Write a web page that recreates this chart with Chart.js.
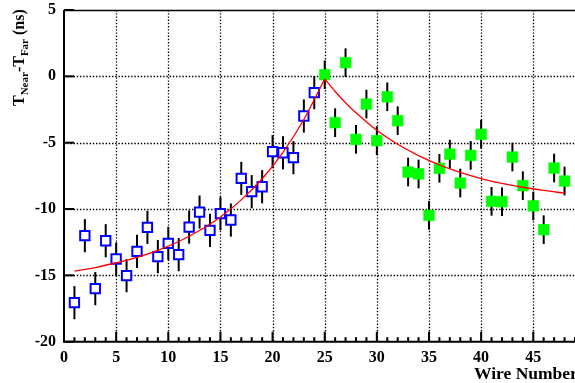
<!DOCTYPE html>
<html>
<head>
<meta charset="utf-8">
<script src="https://cdn.jsdelivr.net/npm/chart.js@4.4.0/dist/chart.umd.min.js"></script>
<style>
  html, body { margin: 0; padding: 0; overflow: hidden; background: #fff; }
  #wrap { width: 594px; height: 383px; }
</style>
</head>
<body>
<div id="wrap"><canvas id="c" width="594" height="383"></canvas></div>
<script>
// Wires 1-24: near-side time difference (open blue squares)
const nearWires = [1, 2, 3, 4, 5, 6, 7, 8, 9, 10, 11, 12, 13, 14, 15, 16, 17, 18, 19, 20, 21, 22, 23, 24];
const nearDelta = [-17.06, -12.01, -16.0, -12.39, -13.77, -15.02, -13.19, -11.38, -13.59, -12.59, -13.44, -11.36,
                   -10.23, -11.61, -10.35, -10.83, -7.69, -8.69, -8.32, -5.68, -5.76, -6.13, -2.99, -1.23];
const nearErr   = [1.25, 1.25, 1.25, 1.25, 1.25, 1.25, 1.25, 1.25, 1.25, 1.25, 1.25, 1.25,
                   1.25, 1.25, 1.25, 1.25, 1.25, 1.25, 1.25, 1.25, 1.25, 1.25, 1.25, 1.25];

// Wires 25-48: far-side time difference (filled green squares)
const farWires = [25, 26, 27, 28, 29, 30, 31, 32, 33, 34, 35, 36, 37, 38, 39, 40, 41, 42, 43, 44, 45, 46, 47, 48];
const farDelta = [0.12, -3.49, 1.03, -4.75, -2.09, -4.85, -1.54, -3.34, -7.21, -7.36, -10.48, -6.93,
                  -5.86, -8.04, -5.96, -4.37, -9.42, -9.45, -6.08, -8.24, -9.77, -11.56, -6.91, -7.89];
const farErr   = [1.08, 1.08, 1.08, 1.08, 1.08, 1.08, 1.08, 1.08, 1.08, 1.08, 1.08, 1.08,
                  1.08, 1.08, 1.08, 1.08, 1.08, 1.08, 1.08, 1.08, 1.08, 1.08, 1.08, 1.08];

// Fitted curves (red), sampled along each branch
const riseX = [1, 3, 5, 7, 9, 11, 13, 15, 17, 19, 21, 23, 25];
const riseY = [-14.68, -14.41, -14.05, -13.64, -13.11, -12.45, -11.62, -10.6, -9.31, -7.72, -5.73, -3.25, -0.2];
const fallX = [25, 26, 27, 28, 30, 32, 34, 36, 38, 40, 42, 44, 46, 48];
const fallY = [-0.2, -1.14, -1.99, -2.75, -4.07, -5.12, -5.97, -6.67, -7.23, -7.7, -8.06, -8.36, -8.6, -8.8];

// Axis ticks
const xLabelTicks = [0, 5, 10, 15, 20, 25, 30, 35, 40, 45];
const yLabelTicks = [-20, -15, -10, -5, 0, 5];

const FONT = "'Liberation Serif', 'Times New Roman', serif";
const pts = (xs, ys) => xs.map((x, i) => ({ x: x, y: ys[i] }));

const rootFrame = {
  id: 'rootFrame',
  beforeDatasetsDraw(chart) {
    const { ctx, chartArea: a, scales: { x, y } } = chart;
    ctx.save();
    // dotted grid at the labelled ticks
    ctx.strokeStyle = '#000';
    ctx.lineWidth = 1.3;
    ctx.setLineDash([1.4, 1.8]);
    xLabelTicks.forEach(v => {
      if (v <= x.min || v >= x.max) return;
      const px = Math.round(x.getPixelForValue(v)) + 0.5;
      ctx.beginPath(); ctx.moveTo(px, a.top); ctx.lineTo(px, a.bottom); ctx.stroke();
    });
    yLabelTicks.forEach(v => {
      if (v <= y.min || v >= y.max) return;
      const py = Math.round(y.getPixelForValue(v)) + 0.5;
      ctx.beginPath(); ctx.moveTo(a.left, py); ctx.lineTo(a.right, py); ctx.stroke();
    });
    ctx.setLineDash([]);
    // vertical error bars
    ctx.lineWidth = 2;
    ctx.strokeStyle = '#000';
    const bars = (xs, ys, es) => xs.forEach((w, i) => {
      const px = x.getPixelForValue(w);
      ctx.beginPath();
      ctx.moveTo(px, y.getPixelForValue(ys[i] + es[i]));
      ctx.lineTo(px, y.getPixelForValue(ys[i] - es[i]));
      ctx.stroke();
    });
    bars(nearWires, nearDelta, nearErr);
    bars(farWires, farDelta, farErr);
    ctx.restore();
  },
  afterDraw(chart) {
    const { ctx, chartArea: a, scales: { x, y } } = chart;
    ctx.save();
    ctx.strokeStyle = '#000';
    // frame: left, bottom, top
    ctx.lineWidth = 2;
    ctx.beginPath();
    ctx.moveTo(a.left, a.top); ctx.lineTo(a.left, a.bottom); ctx.lineTo(a.right, a.bottom);
    ctx.stroke();
    ctx.lineWidth = 1.5;
    ctx.beginPath(); ctx.moveTo(a.left, a.top + 0.5); ctx.lineTo(a.right, a.top + 0.5); ctx.stroke();
    // inward tick marks
    ctx.lineWidth = 2;
    for (let v = Math.ceil(x.min); v <= x.max; v++) {
      const px = x.getPixelForValue(v);
      const len = (v % 5 === 0) ? 10 : 4.5;
      ctx.beginPath(); ctx.moveTo(px, a.bottom); ctx.lineTo(px, a.bottom - len); ctx.stroke();
    }
    yLabelTicks.forEach(v => {
      const py = y.getPixelForValue(v);
      ctx.beginPath(); ctx.moveTo(a.left, py); ctx.lineTo(a.left + 10, py); ctx.stroke();
    });
    // axis titles
    ctx.fillStyle = '#000';
    ctx.textBaseline = 'alphabetic';
    ctx.textAlign = 'left';
    ctx.font = 'bold 17.5px ' + FONT;
    ctx.fillText('Wire Number', 474, 379);

    ctx.translate(24, 106);
    ctx.rotate(-Math.PI / 2);
    const parts = [
      ['T', 16, 0], ['Near', 11, 4], ['-T', 16, 0], ['Far', 11, 4], [' (ns)', 16, 0]
    ];
    let cx = 0;
    parts.forEach(([t, s, dy]) => {
      ctx.font = 'bold ' + s + 'px ' + FONT;
      ctx.fillText(t, cx, dy);
      cx += ctx.measureText(t).width;
    });
    ctx.restore();
  }
};

new Chart(document.getElementById('c'), {
  type: 'scatter',
  data: {
    datasets: [
      {
        label: 'fit rise', type: 'line', data: pts(riseX, riseY),
        borderColor: '#ff0000', borderWidth: 1.3, pointRadius: 0,
        cubicInterpolationMode: 'monotone', fill: false, order: 0
      },
      {
        label: 'fit fall', type: 'line', data: pts(fallX, fallY),
        borderColor: '#ff0000', borderWidth: 1.3, pointRadius: 0,
        cubicInterpolationMode: 'monotone', fill: false, order: 0
      },
      {
        label: 'near', data: pts(nearWires, nearDelta),
        pointStyle: 'rect', pointRadius: 6.6, pointHoverRadius: 6.6,
        borderColor: '#0000ff', backgroundColor: '#ffffff', borderWidth: 2, order: 1
      },
      {
        label: 'far', data: pts(farWires, farDelta),
        pointStyle: 'rect', pointRadius: 7.6, pointHoverRadius: 7.6,
        borderColor: '#00ff00', backgroundColor: '#00ff00', borderWidth: 0.5, order: 1
      }
    ]
  },
  options: {
    responsive: false,
    animation: false,
    events: [],
    layout: { padding: { top: 10, right: 0, bottom: 0, left: 0 } },
    plugins: { legend: { display: false }, tooltip: { enabled: false } },
    scales: {
      x: {
        type: 'linear', min: 0, max: 50,
        afterFit: s => { s.height = 41.3; s.paddingLeft = 0; s.paddingRight = 0; },
        afterBuildTicks: s => { s.ticks = xLabelTicks.map(v => ({ value: v })); },
        grid: { display: false, drawTicks: false },
        border: { display: false },
        ticks: {
          padding: 7, color: '#000', maxRotation: 0, autoSkip: false,
          font: { family: FONT, size: 16, weight: 'bold' }
        }
      },
      y: {
        type: 'linear', min: -20, max: 5,
        afterFit: s => { s.width = 64; s.paddingTop = 0; s.paddingBottom = 0; },
        afterBuildTicks: s => { s.ticks = yLabelTicks.map(v => ({ value: v })); },
        grid: { display: false, drawTicks: false },
        border: { display: false },
        ticks: {
          padding: 8, color: '#000',
          font: { family: FONT, size: 16, weight: 'bold' }
        }
      }
    }
  },
  plugins: [rootFrame]
});
</script>
</body>
</html>
